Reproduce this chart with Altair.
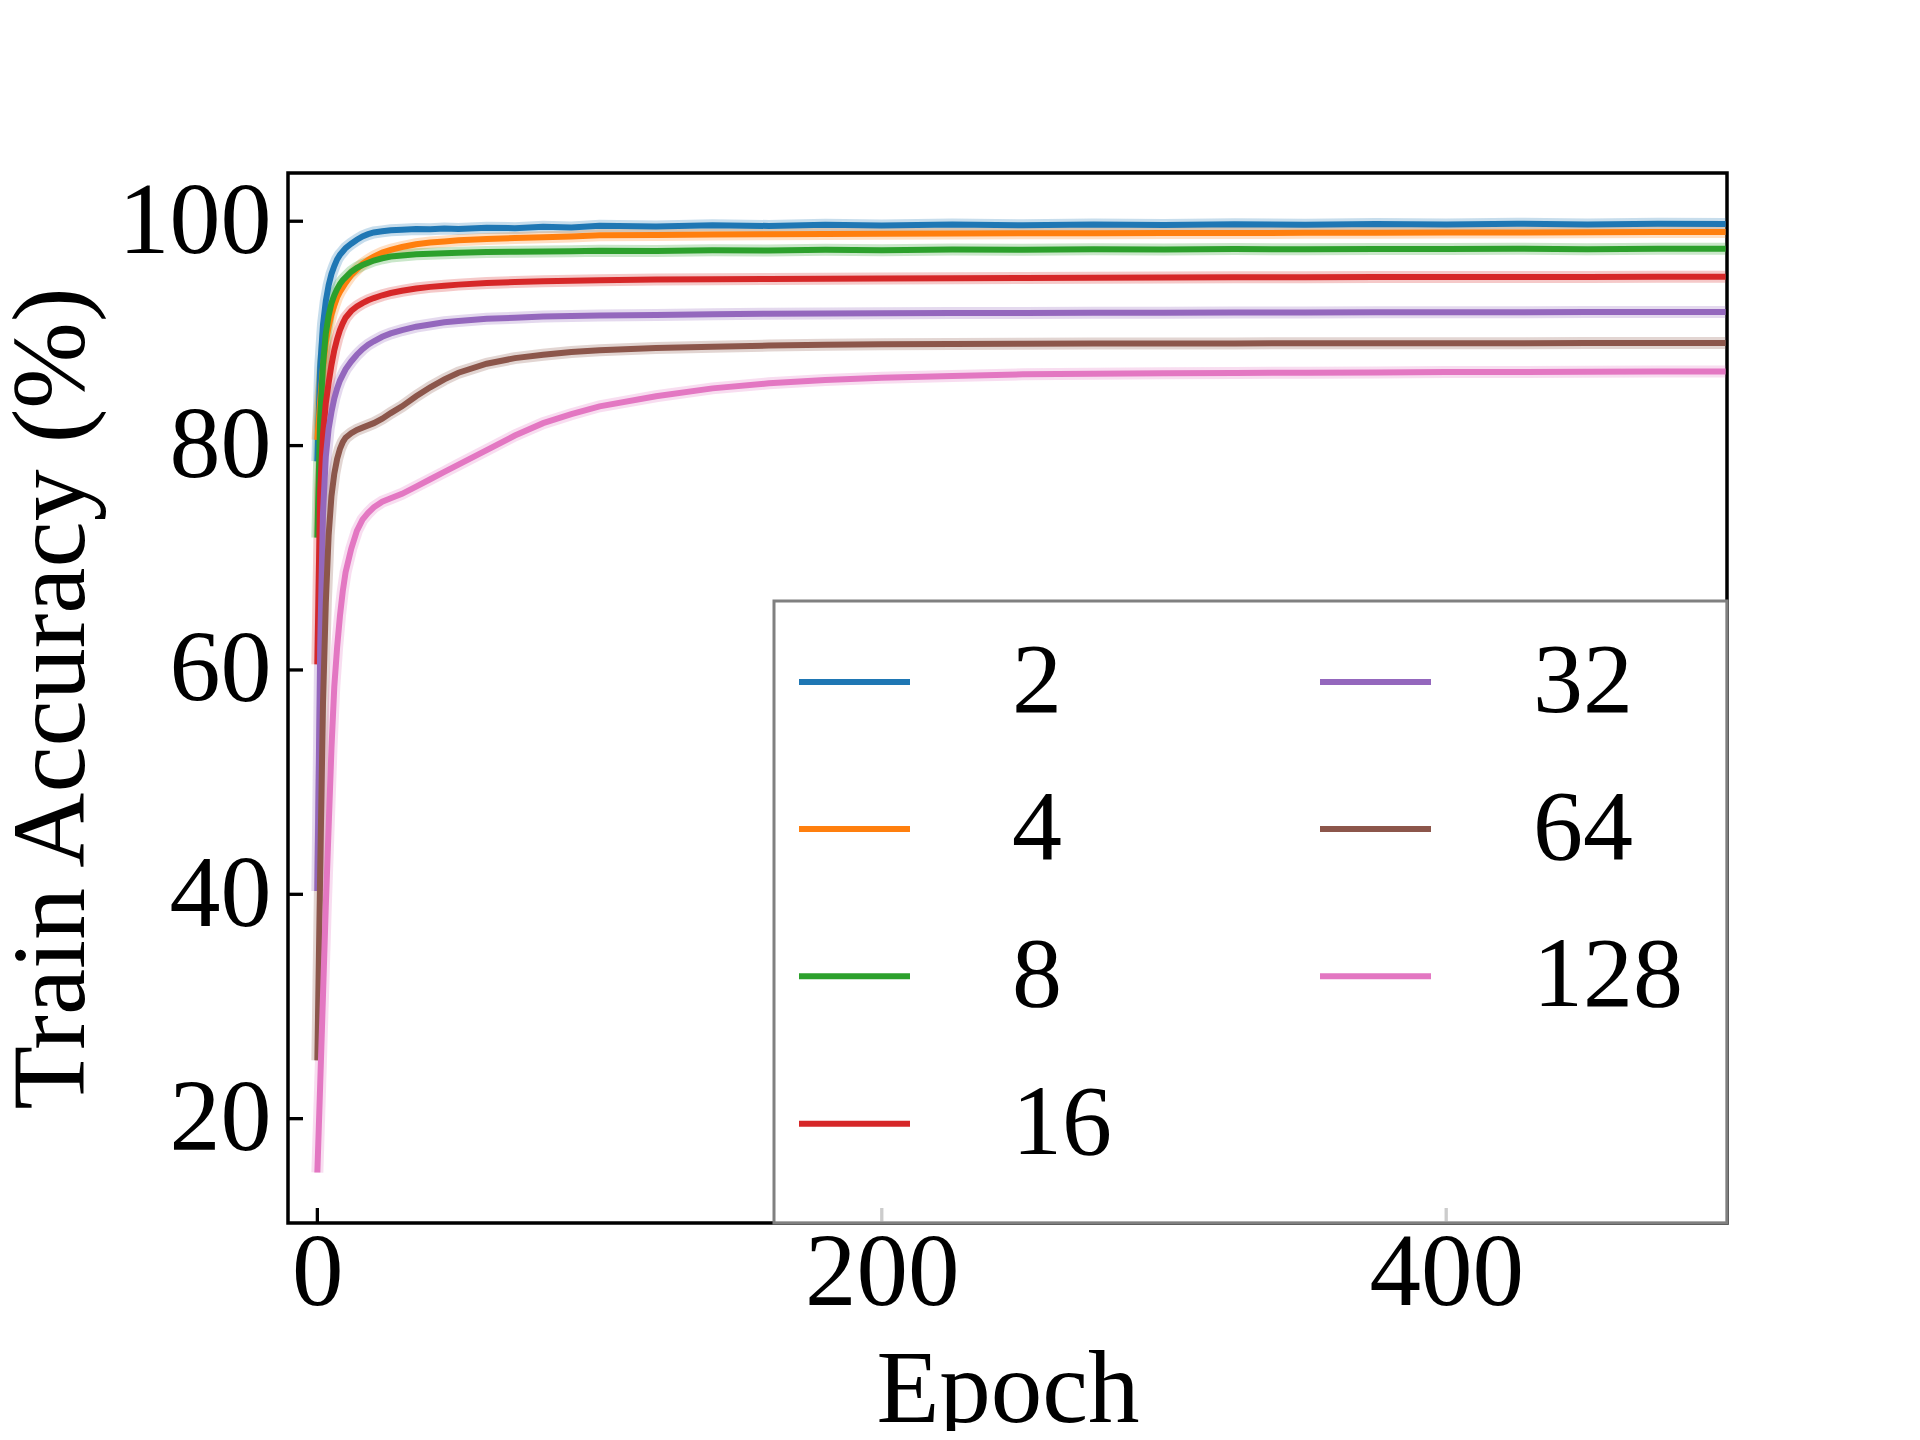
import altair as alt
import pandas as pd

# ---------------- data ----------------
epochs = [0, 1, 2, 3, 4, 5, 6, 7, 8, 9, 10, 12, 14, 16, 18, 20, 23, 26, 30, 35, 40, 45, 50,
          60, 70, 80, 90, 100, 120, 140, 160, 180, 200, 225, 250, 275, 300, 325, 350, 375,
          400, 425, 450, 475, 499]

acc_2 = [78.6, 87.0, 90.8, 92.9, 94.3, 95.3, 96.0, 96.6, 97.0, 97.3, 97.6, 98.0, 98.35, 98.65,
         98.85, 99.0, 99.1, 99.2, 99.25, 99.3, 99.28, 99.35, 99.3, 99.42, 99.38, 99.5, 99.45,
         99.6, 99.52, 99.65, 99.58, 99.68, 99.62, 99.7, 99.64, 99.72, 99.66, 99.74, 99.68,
         99.76, 99.7, 99.78, 99.72, 99.78, 99.76]
acc_4 = [80.5, 84.0, 87.0, 89.2, 90.6, 91.7, 92.5, 93.2, 93.7, 94.1, 94.5, 95.2, 95.7, 96.2,
         96.55, 96.85, 97.2, 97.45, 97.7, 97.95, 98.1, 98.2, 98.3, 98.42, 98.5, 98.58, 98.65,
         98.75, 98.78, 98.82, 98.85, 98.86, 98.88, 98.9, 98.92, 98.93, 98.95, 98.95, 98.97,
         98.98, 99.0, 99.0, 99.02, 99.03, 99.05]
acc_8 = [71.8, 82.5, 87.2, 90.0, 91.6, 92.7, 93.4, 93.95, 94.4, 94.75, 95.0, 95.5, 95.85, 96.1,
         96.3, 96.5, 96.7, 96.85, 96.95, 97.05, 97.1, 97.15, 97.2, 97.25, 97.28, 97.3, 97.33,
         97.38, 97.35, 97.42, 97.4, 97.45, 97.42, 97.47, 97.45, 97.5, 97.47, 97.52, 97.5,
         97.53, 97.52, 97.55, 97.5, 97.55, 97.55]
acc_16 = [60.5, 76.0, 81.0, 83.8, 85.6, 87.2, 88.5, 89.5, 90.3, 90.9, 91.4, 92.0, 92.4, 92.7,
          92.95, 93.15, 93.4, 93.6, 93.8, 94.0, 94.15, 94.25, 94.35, 94.5, 94.58, 94.65, 94.7,
          94.75, 94.8, 94.83, 94.86, 94.88, 94.9, 94.92, 94.94, 94.96, 94.98, 95.0, 95.0,
          95.02, 95.02, 95.03, 95.04, 95.05, 95.05]
acc_32 = [40.3, 62.0, 74.0, 79.0, 81.5, 83.0, 84.2, 85.1, 85.8, 86.3, 86.8, 87.5, 88.1, 88.6,
          89.0, 89.3, 89.7, 90.0, 90.3, 90.6, 90.8, 91.0, 91.1, 91.3, 91.4, 91.5, 91.55,
          91.6, 91.65, 91.7, 91.75, 91.77, 91.8, 91.82, 91.83, 91.84, 91.85, 91.86, 91.87,
          91.88, 91.88, 91.89, 91.9, 91.9, 91.9]
acc_64 = [25.2, 42.0, 57.0, 66.0, 72.0, 75.5, 77.5, 78.8, 79.7, 80.3, 80.7, 81.1, 81.4, 81.6,
          81.8, 82.0, 82.4, 82.9, 83.5, 84.4, 85.2, 85.9, 86.5, 87.3, 87.8, 88.1, 88.35,
          88.5, 88.7, 88.82, 88.92, 88.98, 89.03, 89.06, 89.08, 89.1, 89.1, 89.11, 89.12,
          89.12, 89.13, 89.13, 89.14, 89.14, 89.15]
acc_128 = [15.2, 23.0, 31.0, 39.0, 46.0, 53.0, 58.5, 62.0, 64.8, 67.0, 68.7, 70.8, 72.4, 73.4,
           74.0, 74.5, 75.0, 75.3, 75.7, 76.35, 77.0, 77.65, 78.3, 79.6, 80.9, 82.0, 82.8,
           83.5, 84.4, 85.1, 85.55, 85.85, 86.05, 86.2, 86.35, 86.4, 86.45, 86.48, 86.5,
           86.52, 86.55, 86.56, 86.58, 86.6, 86.6]

series_names = ["2", "4", "8", "16", "32", "64", "128"]
series_values = [acc_2, acc_4, acc_8, acc_16, acc_32, acc_64, acc_128]
series_colors = ["#1f77b4", "#ff7f0e", "#2ca02c", "#d62728", "#9467bd", "#8c564b", "#e377c2"]

x_ticks = [0, 200, 400]
y_ticks = [20, 40, 60, 80, 100]

rows = []
for name, vals in zip(series_names, series_values):
    for e, v in zip(epochs, vals):
        rows.append({"epoch": e, "acc": v, "batch": name})
df = pd.DataFrame(rows)

W, H = 1439, 1050
FONT = "Liberation Serif, Times New Roman, serif"

xscale = alt.Scale(domain=[-10.4, 499.5], nice=False, zero=False)
yscale = alt.Scale(domain=[10.7, 104.3], nice=False, zero=False)

xaxis = alt.Axis(values=x_ticks, title="Epoch", ticks=False, domain=False, grid=False,
                 labelFont=FONT, labelFontSize=103, labelColor="black", labelPadding=0,
                 labelFlush=False, format="d",
                 titleFont=FONT, titleFontSize=103, titleFontWeight="normal", titleColor="black",
                 titleBaseline="alphabetic", titleX=W / 2, titleY=198, titleAlign="center")
yaxis = alt.Axis(values=y_ticks, title="Train Accuracy (%)", ticks=False, domain=False, grid=False,
                 labelFont=FONT, labelFontSize=102, labelColor="black", labelPadding=17,
                 labelFlush=False, format="d",
                 titleFont=FONT, titleFontSize=104, titleFontWeight="normal", titleColor="black",
                 titleAngle=270, titleBaseline="alphabetic", titleAlign="center",
                 titleX=-205, titleY=H / 2)

# legend key: a horizontal stroke; the extra move-to points only widen the entry box
# so the entries sit where the reference legend puts them inside its frame
legend_symbol = "M-1,0H1M-1.8,0M5.72,0M0,1.164"

legend = alt.Legend(title=None, orient="bottom-right", offset=0, columns=2,
                    symbolType=legend_symbol, symbolSize=12321, symbolStrokeWidth=6,
                    symbolOpacity=1, labelFont=FONT, labelFontSize=100, labelColor="black",
                    labelOffset=99, labelLimit=0, columnPadding=79, rowPadding=11.4,
                    padding=22, strokeColor="#808080",
                    fillColor="rgba(255,255,255,0.8)", cornerRadius=0, gridAlign="each")

color = alt.Color("batch:N", scale=alt.Scale(domain=series_names, range=series_colors),
                  legend=legend)

base = alt.Chart(df).encode(
    x=alt.X("epoch:Q", scale=xscale, axis=xaxis),
    y=alt.Y("acc:Q", scale=yscale, axis=yaxis),
    color=color,
    order=alt.Order("epoch:Q"),
)

halo = base.mark_line(strokeWidth=12, opacity=0.25)
lines = base.mark_line(strokeWidth=6)

xt = alt.Chart(pd.DataFrame({"epoch": x_ticks})).mark_rule(color="black", strokeWidth=3.3).encode(
    x=alt.X("epoch:Q", scale=xscale, axis=xaxis),
    y=alt.value(H), y2=alt.value(H - 15))
yt = alt.Chart(pd.DataFrame({"acc": y_ticks})).mark_rule(color="black", strokeWidth=3.3).encode(
    y=alt.Y("acc:Q", scale=yscale, axis=yaxis),
    x=alt.value(0), x2=alt.value(15))

chart = alt.layer(halo, lines, xt, yt).properties(
    width=W, height=H,
    padding={"left": 280, "top": 165, "right": 180, "bottom": 208},
    autosize=alt.AutoSizeParams(type="none"),
    background="white",
).configure_view(stroke="black", strokeWidth=3.5).configure_legend(strokeWidth=3)

chart.save("out.html", embed_options={"renderer": "svg", "actions": False})
